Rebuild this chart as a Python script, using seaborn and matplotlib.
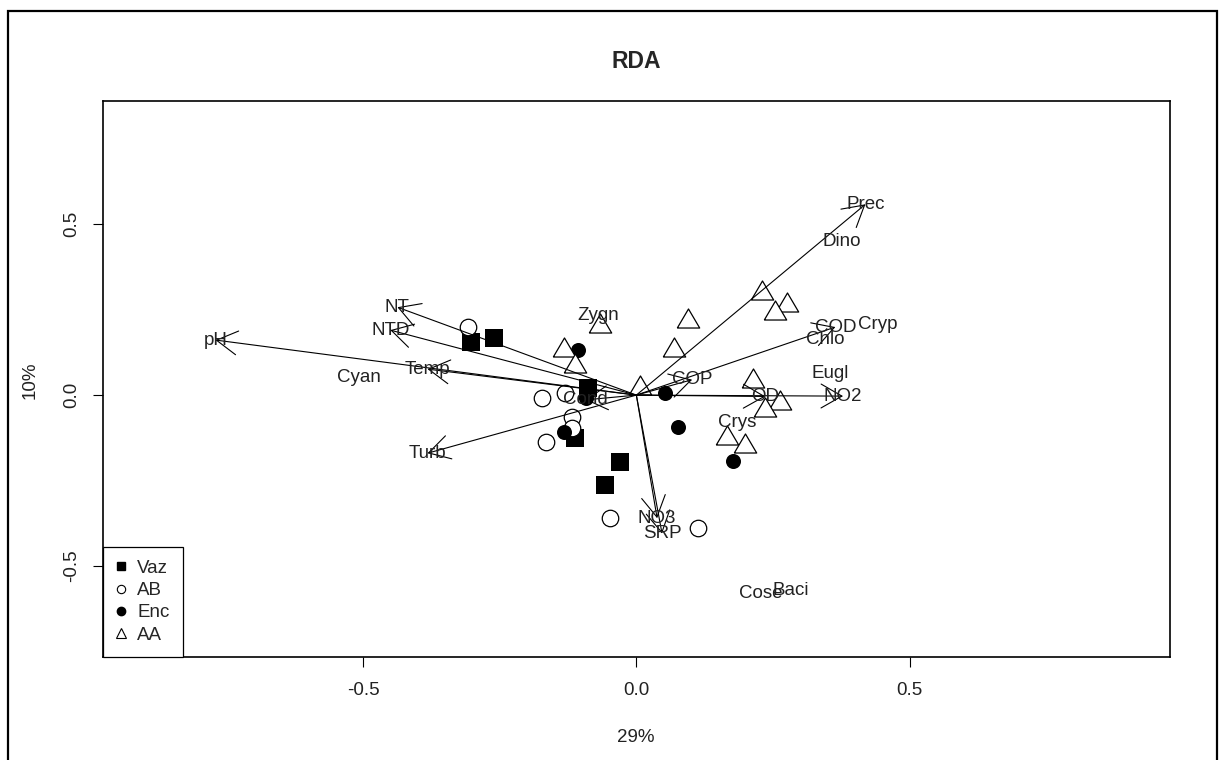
import matplotlib
matplotlib.use("Agg")  # sem display
import matplotlib.pyplot as plt
from matplotlib.lines import Line2D
from matplotlib.patches import Rectangle
import pandas as pd
import seaborn as sns

sns.set_style("ticks")
plt.rcParams["font.family"] = ["Liberation Sans", "DejaVu Sans"]

# ------------------ Dados ------------------ #

# sitios por periodo hidrologico
vaz_x = [-0.303, -0.261, -0.088, -0.112, -0.029, -0.057]
vaz_y = [0.155, 0.167, 0.020, -0.126, -0.196, -0.263]

ab_x = [-0.307, -0.172, -0.130, -0.117, -0.117, -0.165, -0.048, 0.113]
ab_y = [0.199, -0.009, 0.006, -0.064, -0.096, -0.137, -0.360, -0.389]

enc_x = [-0.106, -0.093, -0.132, 0.053, 0.077, 0.177]
enc_y = [0.132, -0.009, -0.108, 0.006, -0.094, -0.193]

aa_x = [-0.133, -0.113, -0.066, 0.007, 0.095, 0.068, 0.230, 0.276, 0.254,
        0.214, 0.263, 0.236, 0.166, 0.199]
aa_y = [0.140, 0.094, 0.211, 0.029, 0.225, 0.140, 0.307, 0.272, 0.249,
        0.050, -0.015, -0.035, -0.117, -0.140]

# variaveis ambientais (setas)
env_nomes = ["pH", "NT", "NTD", "Temp", "Turb", "Cond", "COP",
             "Prec", "COD", "NO2", "OD", "NO3", "SRP"]
env_x = [-0.770, -0.437, -0.450, -0.382, -0.382, -0.093, 0.102,
         0.419, 0.364, 0.378, 0.236, 0.038, 0.047]
env_y = [0.161, 0.257, 0.190, 0.076, -0.170, -0.014, 0.045,
         0.558, 0.199, -0.003, -0.004, -0.360, -0.405]

# grupos de fitoplancton (texto)
sp_nomes = ["Cyan", "Zygn", "Dino", "Cryp", "Chlo", "Eugl", "Crys", "Baci", "Cose"]
sp_x = [-0.508, -0.069, 0.376, 0.442, 0.346, 0.355, 0.185, 0.282, 0.227]
sp_y = [0.050, 0.234, 0.450, 0.205, 0.164, 0.064, -0.079, -0.570, -0.579]

grupos = ["Vaz", "AB", "Enc", "AA"]

sitios = pd.concat([
    pd.DataFrame({"x": vaz_x, "y": vaz_y, "grupo": "Vaz"}),
    pd.DataFrame({"x": ab_x, "y": ab_y, "grupo": "AB"}),
    pd.DataFrame({"x": enc_x, "y": enc_y, "grupo": "Enc"}),
    pd.DataFrame({"x": aa_x, "y": aa_y, "grupo": "AA"}),
], ignore_index=True)

# ------------------ Figura ------------------ #

W, H = 1219, 760
fig = plt.figure(figsize=(W / 100, H / 100), dpi=100)
ax = fig.add_axes([102.7 / W, 1 - 656.7 / H, (1170 - 102.7) / W, (656.7 - 101) / H])

triangulo = [(-1, -0.85), (1, -0.85), (0, 0.85), (-1, -0.85)]
estilos = {
    "Vaz": dict(marker="s", s=150, color="black", linewidth=0),
    "AB": dict(marker="o", s=141, color="black", facecolor="white", edgecolor="black", linewidth=0.9),
    "Enc": dict(marker="o", s=117, color="black", linewidth=0),
    "AA": dict(marker=triangulo, s=260, color="black", facecolor="white", edgecolor="black", linewidth=0.9),
}
for g in grupos:
    sub = sitios[sitios["grupo"] == g]
    sns.scatterplot(data=sub, x="x", y="y", ax=ax, legend=False, zorder=2, **estilos[g])

for nome, x, y in zip(env_nomes, env_x, env_y):
    ax.annotate("", xy=(x, y), xytext=(0, 0),
                arrowprops=dict(arrowstyle="->,head_length=1.5,head_width=0.86",
                                color="black", lw=0.8, shrinkA=0, shrinkB=0,
                                mutation_scale=10),
                zorder=3)
    ax.text(x, y, nome, ha="center", va="center", fontsize=13.5, color="#222222", zorder=4)

for nome, x, y in zip(sp_nomes, sp_x, sp_y):
    ax.text(x, y, nome, ha="center", va="center", fontsize=13.5, color="#222222", zorder=4)

ax.set_xlim(-0.976, 0.976)
ax.set_ylim(-0.765, 0.860)
ax.set_xticks([-0.5, 0.0, 0.5])
ax.set_xticklabels(["-0.5", "0.0", "0.5"])
ax.set_yticks([-0.5, 0.0, 0.5])
ax.set_yticklabels(["-0.5", "0.0", "0.5"], rotation=90, va="center")
ax.tick_params(direction="out", length=7, width=0.8, labelsize=13.5,
               colors="black", labelcolor="#222222")
ax.tick_params(axis="x", pad=11)
ax.tick_params(axis="y", pad=9)
ax.set_xlabel("")
ax.set_ylabel("")
for sp in ax.spines.values():
    sp.set_visible(True)
    sp.set_color("black")
    sp.set_linewidth(1.2)

# legenda no canto inferior esquerdo
handles = [
    Line2D([], [], ls="", marker="s", ms=6, mfc="black", mec="black"),
    Line2D([], [], ls="", marker="o", ms=6, mfc="white", mec="black", mew=0.8),
    Line2D([], [], ls="", marker="o", ms=6, mfc="black", mec="black"),
    Line2D([], [], ls="", marker="^", ms=7, mfc="white", mec="black", mew=0.8),
]
leg = ax.legend(handles, grupos, loc="lower left", borderaxespad=0, fancybox=False,
                framealpha=1, edgecolor="black", fontsize=13.5, handlelength=0.5,
                handletextpad=0.65, labelspacing=0.27, borderpad=0.7)
leg.get_frame().set_linewidth(0.9)

fig.text(636 / W, 1 - 62 / H, "RDA", ha="center", va="center", fontsize=16.5, fontweight="bold")
fig.text(636 / W, 1 - 737 / H, "29%", ha="center", va="center", fontsize=13.5, color="#222222")
fig.text(30 / W, 1 - 380 / H, "10%", ha="center", va="center", rotation=90, fontsize=13.5, color="#222222")

# moldura externa da imagem
fig.add_artist(Rectangle((8 / W, -0.01), (1217 - 8) / W, (H - 11) / H + 0.01,
                         transform=fig.transFigure, fill=False, lw=1.6, ec="black"))

fig.savefig("out.png", dpi=100)
